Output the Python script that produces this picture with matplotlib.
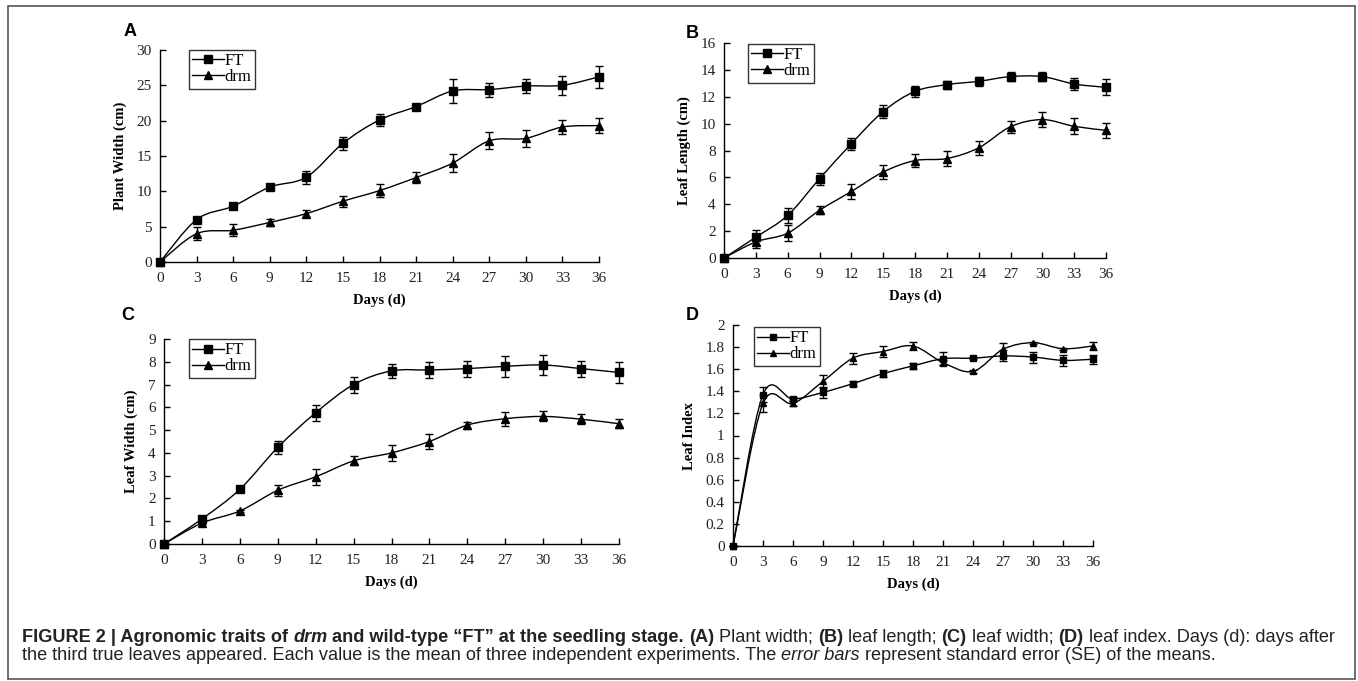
import matplotlib
matplotlib.use("Agg")
import matplotlib.pyplot as plt
from matplotlib.path import Path
from matplotlib.patches import PathPatch, Rectangle
from matplotlib.lines import Line2D
import numpy as np

W, H = 1358, 681

DAYS = [0, 3, 6, 9, 12, 15, 18, 21, 24, 27, 30, 33, 36]

# A: plant width (cm)
FT_WIDTH = [0, 6.0, 7.9, 10.6, 12.0, 16.8, 20.1, 22.0, 24.2, 24.4, 24.9, 25.0, 26.2]
FT_WIDTH_SE = [0, 0.3, 0.3, 0.3, 0.9, 0.9, 0.9, 0.3, 1.65, 1.0, 1.05, 1.35, 1.6]
DRM_WIDTH = [0, 4.0, 4.5, 5.6, 6.85, 8.6, 10.1, 11.95, 14.0, 17.15, 17.5, 19.1, 19.3]
DRM_WIDTH_SE = [0, 0.95, 0.85, 0.5, 0.5, 0.8, 0.9, 0.8, 1.25, 1.2, 1.2, 0.95, 1.1]

# B: leaf length (cm)
FT_LENGTH = [0, 1.55, 3.17, 5.9, 8.5, 10.9, 12.4, 12.9, 13.15, 13.5, 13.5, 12.95, 12.7]
FT_LENGTH_SE = [0, 0.55, 0.55, 0.45, 0.45, 0.45, 0.4, 0.3, 0.35, 0.35, 0.35, 0.45, 0.6]
DRM_LENGTH = [0, 1.2, 1.85, 3.55, 4.95, 6.4, 7.25, 7.4, 8.2, 9.77, 10.3, 9.8, 9.5]
DRM_LENGTH_SE = [0, 0.45, 0.6, 0.3, 0.55, 0.5, 0.5, 0.55, 0.5, 0.45, 0.55, 0.6, 0.55]

# C: leaf width (cm)
FT_LWIDTH = [0, 1.1, 2.4, 4.24, 5.76, 7.0, 7.6, 7.64, 7.7, 7.8, 7.86, 7.7, 7.53]
FT_LWIDTH_SE = [0, 0.1, 0.1, 0.3, 0.35, 0.35, 0.3, 0.35, 0.35, 0.45, 0.45, 0.35, 0.45]
DRM_LWIDTH = [0, 0.92, 1.45, 2.36, 2.95, 3.65, 4.0, 4.5, 5.22, 5.5, 5.6, 5.48, 5.28]
DRM_LWIDTH_SE = [0, 0.05, 0.05, 0.25, 0.35, 0.2, 0.35, 0.35, 0.15, 0.3, 0.22, 0.22, 0.2]

# D: leaf index
FT_INDEX = [0, 1.37, 1.33, 1.39, 1.47, 1.56, 1.63, 1.695, 1.70, 1.72, 1.71, 1.68, 1.69]
FT_INDEX_SE = [0, 0.07, 0.02, 0.05, 0.02, 0.03, 0.03, 0.06, 0.01, 0.05, 0.05, 0.05, 0.04]
DRM_INDEX = [0, 1.29, 1.29, 1.49, 1.70, 1.76, 1.81, 1.66, 1.58, 1.78, 1.84, 1.785, 1.81]
DRM_INDEX_SE = [0, 0.08, 0.02, 0.06, 0.05, 0.05, 0.04, 0.02, 0.01, 0.06, 0.01, 0.01, 0.04]

SERIF = ["Liberation Serif", "DejaVu Serif"]
SANS = ["Liberation Sans", "DejaVu Sans"]


def px_rect(left, top, right, bottom):
    return [left / W, 1 - bottom / H, (right - left) / W, (bottom - top) / H]


def _smooth_line(ax, x, y, lw):
    # excel-style smoothed line as cubic bezier segments
    pts = np.column_stack([x, y]).astype(float)
    ext = np.vstack([pts[0], pts, pts[-1]])
    verts = [pts[0]]
    codes = [Path.MOVETO]
    for i in range(len(pts) - 1):
        p0, p1, p2, p3 = ext[i], ext[i + 1], ext[i + 2], ext[i + 3]
        verts += [p1 + (p2 - p0) / 6, p2 - (p3 - p1) / 6, p2]
        codes += [Path.CURVE4] * 3
    ax.add_patch(PathPatch(Path(verts, codes), fill=False, edgecolor="black",
                           linewidth=lw, clip_on=False, zorder=2))


def _panel(fig, rect, letter, letter_xy, ft, ft_se, drm, drm_se, ymax, ystep,
           ylabel, legend_xy, ms_sq=6.0, ms_tri=6.0):
    ax = fig.add_axes(px_rect(*rect))
    _smooth_line(ax, DAYS, ft, 1.0)
    _smooth_line(ax, DAYS, drm, 1.0)
    for vals, se in [(ft, ft_se), (drm, drm_se)]:
        ax.errorbar(DAYS, vals, yerr=se, fmt="none", ecolor="black", elinewidth=1.0,
                    capsize=3.2, capthick=1.0, clip_on=False, zorder=3)
    ax.plot(DAYS, ft, linestyle="none", marker="s", ms=ms_sq, color="black",
            clip_on=False, zorder=4)
    ax.plot(DAYS, drm, linestyle="none", marker="^", ms=ms_tri, color="black",
            clip_on=False, zorder=4)

    ax.set_xlim(0, 36)
    ax.set_ylim(0, ymax)
    ax.set_xticks(DAYS)
    yt = np.round(np.arange(0, ymax + ystep / 2, ystep), 3)
    ax.set_yticks(yt, labels=[f"{v:g}" for v in yt])
    for s in ["top", "right"]:
        ax.spines[s].set_visible(False)
    for s in ["left", "bottom"]:
        ax.spines[s].set_linewidth(1.0)
    ax.tick_params(direction="in", length=4, width=1.0, labelsize=11)
    ax.tick_params(axis="x", pad=7)
    ax.tick_params(axis="y", pad=6)
    for lab in ax.get_xticklabels() + ax.get_yticklabels():
        lab.set_family(SERIF)
        lab.set_color("#222222")

    ax.set_ylabel(ylabel, family=SERIF, fontweight="bold", fontsize=10.5, labelpad=7)
    ax.set_xlabel("Days (d)", family=SERIF, fontweight="bold", fontsize=10.5, labelpad=6)

    handles = [
        Line2D([], [], color="black", lw=1.0, marker="s", ms=ms_sq),
        Line2D([], [], color="black", lw=1.0, marker="^", ms=ms_tri),
    ]
    leg = fig.legend(handles, ["FT", "drm"], loc="upper left",
                     bbox_to_anchor=(legend_xy[0] / W, 1 - legend_xy[1] / H),
                     prop={"family": SERIF, "size": 12}, frameon=True, fancybox=False,
                     handlelength=1.9, handletextpad=0.05, borderpad=0.2,
                     labelspacing=0.0, borderaxespad=0)
    leg.get_frame().set_edgecolor("black")
    leg.get_frame().set_linewidth(1.0)

    fig.text(letter_xy[0] / W, 1 - letter_xy[1] / H, letter, family=SANS,
             fontweight="bold", fontsize=13, ha="center", va="center")
    return ax


def _caption(fig, pieces, x, y, size):
    renderer = fig.canvas.get_renderer()
    cx = x
    for text, weight, style in pieces:
        t = fig.text(cx / W, 1 - y / H, text, family=SANS, fontsize=size,
                     fontweight=weight, fontstyle=style, color="#222222",
                     ha="left", va="baseline")
        cx += t.get_window_extent(renderer).width


fig = plt.figure(figsize=(W / 100, H / 100), dpi=100)
fig.patch.set_facecolor("white")

fig.add_artist(Rectangle((8 / W, 1 - 679 / H), (1355 - 8) / W, (679 - 6) / H,
                         transform=fig.transFigure, fill=False,
                         edgecolor="#555555", linewidth=1.2))

_panel(fig, (160, 50, 599, 262), "A", (130, 31), FT_WIDTH, FT_WIDTH_SE,
       DRM_WIDTH, DRM_WIDTH_SE, 30, 5, "Plant Width (cm)", (189, 50))
_panel(fig, (724, 43, 1106, 258), "B", (692, 33), FT_LENGTH, FT_LENGTH_SE,
       DRM_LENGTH, DRM_LENGTH_SE, 16, 2, "Leaf Length (cm)", (748, 44))
_panel(fig, (164, 339, 619, 544), "C", (128, 315), FT_LWIDTH, FT_LWIDTH_SE,
       DRM_LWIDTH, DRM_LWIDTH_SE, 9, 1, "Leaf Width (cm)", (189, 339))
_panel(fig, (733, 325, 1093, 546), "D", (692, 315), FT_INDEX, FT_INDEX_SE,
       DRM_INDEX, DRM_INDEX_SE, 2, 0.2, "Leaf Index", (754, 327),
       ms_sq=5.0, ms_tri=5.0)

CAP1 = [
    ("FIGURE 2 | Agronomic traits of ", "bold", "normal"),
    ("drm", "bold", "italic"),
    (" and wild-type \u201cFT\u201d at the seedling stage. ", "bold", "normal"),
    ("(A)", "bold", "normal"),
    (" Plant width; ", "normal", "normal"),
    ("(B)", "bold", "normal"),
    (" leaf length; ", "normal", "normal"),
    ("(C)", "bold", "normal"),
    (" leaf width; ", "normal", "normal"),
    ("(D)", "bold", "normal"),
    (" leaf index. Days (d): days after", "normal", "normal"),
]
CAP2 = [
    ("the third true leaves appeared. Each value is the mean of three independent "
     "experiments. The ", "normal", "normal"),
    ("error bars", "normal", "italic"),
    (" represent standard error (SE) of the means.", "normal", "normal"),
]
_caption(fig, CAP1, 22, 642, 13.1)
_caption(fig, CAP2, 22, 660, 13.1)

fig.savefig("out.png", dpi=100)
